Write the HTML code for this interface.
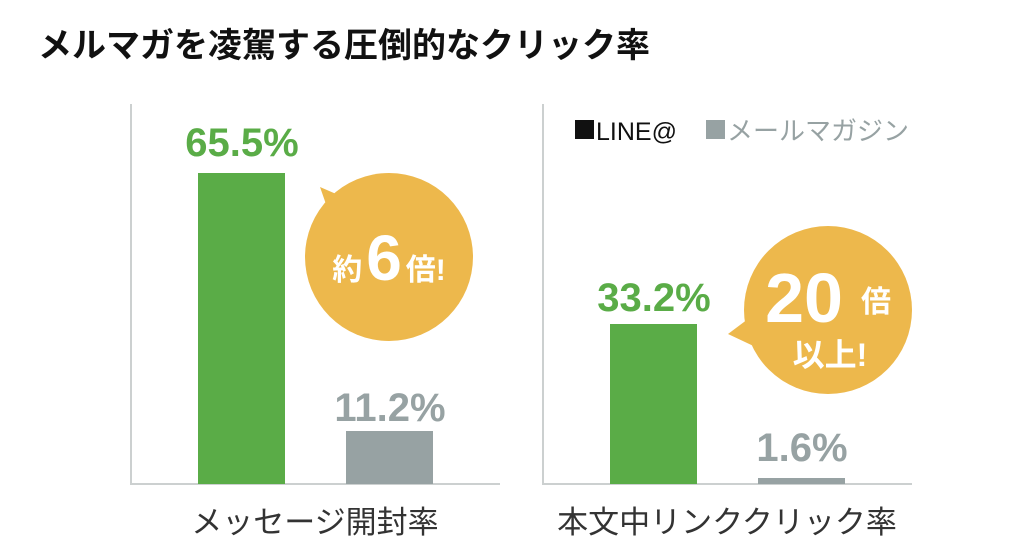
<!DOCTYPE html>
<html><head><meta charset="utf-8"><style>
body{margin:0;background:#fff;width:1024px;height:547px;overflow:hidden;font-family:"Liberation Sans","Noto Sans CJK JP",sans-serif}
</style></head><body>
<svg width="1024" height="547" xmlns="http://www.w3.org/2000/svg" font-family="Liberation Sans, Noto Sans CJK JP, sans-serif">
<text x="38" y="57" font-size="34" font-weight="bold" fill="#111">メルマガを凌駕する圧倒的なクリック率</text>
<!-- left chart -->
<line x1="131" y1="104" x2="131" y2="484" stroke="#ccd0d0" stroke-width="2"/>
<line x1="130" y1="484" x2="500" y2="484" stroke="#ccd0d0" stroke-width="2"/>
<rect x="198" y="173" width="87" height="311" fill="#5aac47"/>
<rect x="346" y="431" width="87" height="53" fill="#97a2a3"/>
<text x="242" y="156" font-size="40" font-weight="bold" fill="#5aac47" text-anchor="middle">65.5%</text>
<text x="390" y="421" font-size="40" font-weight="bold" fill="#97a2a3" text-anchor="middle">11.2%</text>
<circle cx="389" cy="257" r="84" fill="#edb84c"/>
<polygon points="320,187 350,200 335,230" fill="#edb84c"/>
<text x="389" y="280" font-size="30" font-weight="bold" fill="#fff" text-anchor="middle"><tspan>約</tspan><tspan font-size="64" dx="4">6</tspan><tspan dx="4">倍!</tspan></text>
<text x="315" y="533" font-size="31" fill="#333" text-anchor="middle">メッセージ開封率</text>
<!-- right chart -->
<line x1="543" y1="104" x2="543" y2="484" stroke="#ccd0d0" stroke-width="2"/>
<line x1="542" y1="484" x2="912" y2="484" stroke="#ccd0d0" stroke-width="2"/>
<rect x="610" y="324" width="87" height="160" fill="#5aac47"/>
<rect x="758" y="478" width="87" height="6" fill="#97a2a3"/>
<text x="654" y="311" font-size="40" font-weight="bold" fill="#5aac47" text-anchor="middle">33.2%</text>
<text x="802" y="461" font-size="40" font-weight="bold" fill="#97a2a3" text-anchor="middle">1.6%</text>
<rect x="575" y="120" width="19" height="19" fill="#111"/>
<text x="596" y="140" font-size="25" fill="#111">LINE@</text>
<rect x="706" y="120" width="19" height="19" fill="#97a2a3"/>
<text x="727" y="140" font-size="26" fill="#97a2a3">メールマガジン</text>
<circle cx="828" cy="310" r="84" fill="#edb84c"/>
<polygon points="728,334 760,310 762,350" fill="#edb84c"/>
<text x="804" y="322" font-size="70" font-weight="bold" fill="#fff" text-anchor="middle">20</text>
<text x="876" y="312" font-size="30" font-weight="bold" fill="#fff" text-anchor="middle">倍</text>
<text x="830" y="366" font-size="32" font-weight="bold" fill="#fff" text-anchor="middle">以上!</text>
<text x="727" y="533" font-size="31" fill="#333" text-anchor="middle">本文中リンククリック率</text>
</svg>
</body></html>
